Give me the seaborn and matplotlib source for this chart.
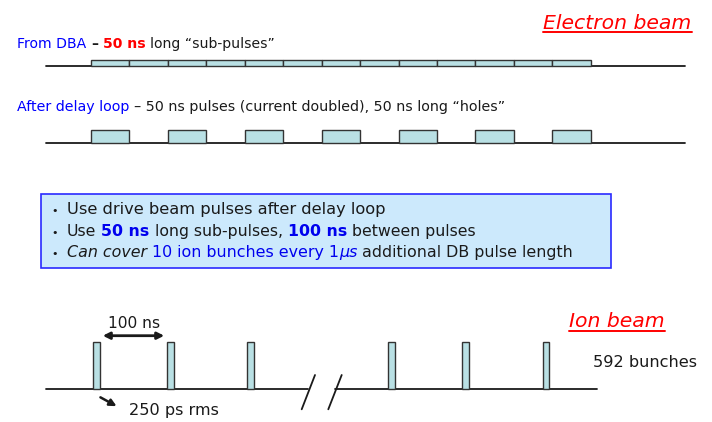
import matplotlib
matplotlib.use("Agg")
import matplotlib.pyplot as plt
import seaborn as sns
from matplotlib.patches import Rectangle, FancyArrowPatch

sns.set_theme(style="white")
plt.rcParams['font.family'] = ['DejaVu Sans']

# ---------------- data ----------------
subpulse_start_ns = [0, 50, 100, 150, 200, 250, 300, 350, 400, 450, 500, 550, 600]
delay_loop_start_ns = [0, 100, 200, 300, 400, 500, 600]
pulse_len_ns = 50
ion_bunch_x = [96.7, 170.5, 250.5, 391.5, 465.2, 545.8]   # schematic positions
bullet_lines = [
    [("Use drive beam pulses after delay loop", "k", "normal", "normal")],
    [("Use ", "k", "normal", "normal"), ("50 ns", "#0000ee", "bold", "normal"),
     (" long sub-pulses, ", "k", "normal", "normal"), ("100 ns", "#0000ee", "bold", "normal"),
     (" between pulses", "k", "normal", "normal")],
    [("Can cover", "k", "normal", "italic"), (" 10 ion bunches every 1", "#0000ee", "normal", "normal"),
     ("\u03bcs", "#0000ee", "normal", "italic"),
     (" additional DB pulse length", "k", "normal", "normal")],
]

PX0, PX_PER_NS = 91.0, 38.44 / 50.0
def ns2px(v):
    return PX0 + v * PX_PER_NS

fig = plt.figure(figsize=(7.12, 4.22), dpi=100)
ax = fig.add_axes([0, 0, 1, 1])
ax.set_xlim(0, 712)
ax.set_ylim(422, 0)
ax.axis('off')
renderer = fig.canvas.get_renderer()


def width_of(s, **p):
    t = ax.text(0, 0, s, **p)
    w = t.get_window_extent(renderer).width
    t.remove()
    return w


def draw_parts(x, y, parts, size, draw=True):
    x0 = x
    for s, color, weight, style in parts:
        p = dict(fontsize=size, color=color, fontweight=weight, fontstyle=style)
        sp = width_of('x x', **p) - width_of('xx', **p)
        lead = len(s) - len(s.lstrip(' '))
        trail = len(s) - len(s.rstrip(' '))
        core = s.strip(' ')
        x += lead * sp
        if draw:
            t = ax.text(x, y, core, va='baseline', ha='left', **p)
            w = t.get_window_extent(renderer).width
        else:
            w = width_of(core, **p)
        x += w + trail * sp
    return x - x0


def rich(x, y, parts, x_end, base=10.5):
    w = draw_parts(x, y, parts, base, draw=False)
    size = base * (x_end - x) / w
    draw_parts(x, y, parts, size)
    return size


# ---------------- electron beam ----------------
def title(x, x_end, y, s, uline_y):
    rich(x, y, [(s, "#ff0000", "normal", "italic")], x_end, base=16)
    ax.plot([x, x_end], [uline_y, uline_y], color="#ff0000", lw=1.4)

title(543, 692, 29, "Electron beam", 32)

rich(17, 48, [("From DBA", "#0000ff", "normal", "normal"), (" \u2013 ", "k", "bold", "normal"),
              ("50 ns", "#ff0000", "bold", "normal"),
              (" long \u201csub-pulses\u201d", "k", "normal", "normal")], 276)

pulse_fill, pulse_edge = "#b9e0e4", "#333333"
sns.lineplot(x=[46, 685], y=[66, 66], color="k", lw=1.3, ax=ax)
ax.bar([ns2px(v) for v in subpulse_start_ns], -6, width=pulse_len_ns * PX_PER_NS, bottom=66,
       align='edge', color=pulse_fill, edgecolor=pulse_edge, linewidth=1.0, zorder=3)

rich(17, 111, [("After delay loop", "#0000ff", "normal", "normal"),
               (" \u2013 50 ns pulses (current doubled), 50 ns long \u201choles\u201d", "k", "normal", "normal")], 509)

sns.lineplot(x=[46, 685], y=[142.5, 142.5], color="k", lw=1.3, ax=ax)
ax.bar([ns2px(v) for v in delay_loop_start_ns], -12.5, width=pulse_len_ns * PX_PER_NS, bottom=142.5,
       align='edge', color=pulse_fill, edgecolor=pulse_edge, linewidth=1.0, zorder=3)

# ---------------- info box ----------------
ax.add_patch(Rectangle((41, 193.5), 570, 74, facecolor="#cce9fc", edgecolor="#2a2aff", lw=1.2, zorder=1))
baselines = [214.3, 235.7, 256.7]
ends = [388, 480, 576]
for parts, yb, xe in zip(bullet_lines, baselines, ends):
    ax.text(55, yb, "\u2022", fontsize=8, ha='center', va='baseline', color='k')
    rich(67, yb, parts, xe)

# ---------------- ion beam ----------------
title(569, 665, 326.7, "Ion beam", 330.7)
sns.lineplot(x=[46, 308], y=[389, 389], color="k", lw=1.3, ax=ax)
sns.lineplot(x=[335, 597], y=[389, 389], color="k", lw=1.3, ax=ax)
for xs in ([301.7, 315], [328.3, 341.7]):
    ax.plot(xs, [409.3, 375], color="k", lw=1.3)
ax.bar([v - 3.3 for v in ion_bunch_x], -46.7, width=6.7, bottom=389, align='edge',
       color=pulse_fill, edgecolor=pulse_edge, linewidth=1.0, zorder=3)

ax.add_patch(FancyArrowPatch((100, 335.7), (167, 335.7), arrowstyle='<|-|>', mutation_scale=10,
                             color='k', lw=2))
rich(108, 328.3, [("100 ns", "k", "normal", "normal")], 161)
ax.add_patch(FancyArrowPatch((98, 396), (119, 407.5), arrowstyle='-|>', mutation_scale=10,
                             color='k', lw=1.8))
rich(129, 415, [("250 ps rms", "k", "normal", "normal")], 220)
rich(593, 366.7, [("592 bunches", "k", "normal", "normal")], 698)

fig.savefig("out.png", dpi=100)
